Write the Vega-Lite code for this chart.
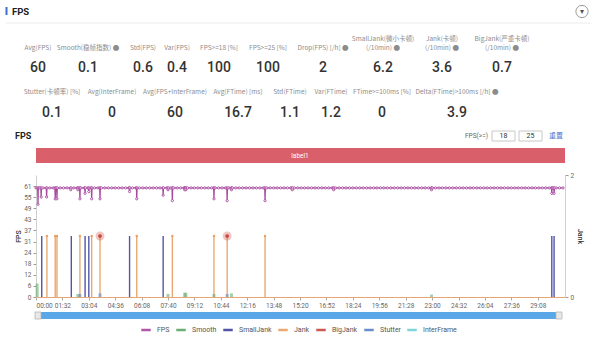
{
"$schema":"https://vega.github.io/schema/vega-lite/v6.json",
"width":529,"height":122,
"autosize":{"type":"none"},
"padding":{"left":36,"top":175,"right":35,"bottom":42},
"background":"white",
"config":{"view":{"stroke":null},"font":"Roboto"},
"datasets":{
"fps":[{"t":0,"fps":60},{"t":6,"fps":60},{"t":7,"fps":51},{"t":8,"fps":60},{"t":12,"fps":60},{"t":17,"fps":60},{"t":18,"fps":55},{"t":19,"fps":60},{"t":24,"fps":60},{"t":36,"fps":60},{"t":37,"fps":55},{"t":38,"fps":60},{"t":48,"fps":60},{"t":60,"fps":60},{"t":66,"fps":60},{"t":67,"fps":54},{"t":68,"fps":60},{"t":72,"fps":60},{"t":73,"fps":54},{"t":74,"fps":60},{"t":84,"fps":60},{"t":96,"fps":60},{"t":108,"fps":60},{"t":120,"fps":60},{"t":121,"fps":59},{"t":122,"fps":60},{"t":132,"fps":60},{"t":144,"fps":60},{"t":145,"fps":60},{"t":146,"fps":59},{"t":147,"fps":60},{"t":152,"fps":60},{"t":153,"fps":54},{"t":154,"fps":60},{"t":156,"fps":60},{"t":168,"fps":60},{"t":170,"fps":60},{"t":171,"fps":57},{"t":172,"fps":60},{"t":180,"fps":60},{"t":183,"fps":60},{"t":184,"fps":58},{"t":185,"fps":60},{"t":192,"fps":60},{"t":193,"fps":60},{"t":194,"fps":54},{"t":195,"fps":60},{"t":204,"fps":60},{"t":216,"fps":60},{"t":222,"fps":60},{"t":223,"fps":54},{"t":224,"fps":60},{"t":228,"fps":60},{"t":240,"fps":60},{"t":252,"fps":60},{"t":264,"fps":60},{"t":276,"fps":60},{"t":288,"fps":60},{"t":300,"fps":60},{"t":312,"fps":60},{"t":324,"fps":60},{"t":325,"fps":60},{"t":326,"fps":58},{"t":327,"fps":60},{"t":336,"fps":60},{"t":348,"fps":60},{"t":350,"fps":60},{"t":351,"fps":54},{"t":352,"fps":60},{"t":360,"fps":60},{"t":372,"fps":60},{"t":384,"fps":60},{"t":396,"fps":60},{"t":408,"fps":60},{"t":420,"fps":60},{"t":432,"fps":60},{"t":442,"fps":60},{"t":443,"fps":56},{"t":444,"fps":60},{"t":456,"fps":60},{"t":459,"fps":60},{"t":460,"fps":59},{"t":461,"fps":60},{"t":468,"fps":60},{"t":474,"fps":60},{"t":475,"fps":53},{"t":476,"fps":60},{"t":480,"fps":60},{"t":492,"fps":60},{"t":504,"fps":60},{"t":516,"fps":60},{"t":517,"fps":60},{"t":518,"fps":59},{"t":519,"fps":60},{"t":521,"fps":60},{"t":522,"fps":59},{"t":523,"fps":60},{"t":528,"fps":60},{"t":540,"fps":60},{"t":552,"fps":60},{"t":564,"fps":60},{"t":576,"fps":60},{"t":588,"fps":60},{"t":600,"fps":60},{"t":612,"fps":60},{"t":619,"fps":60},{"t":620,"fps":54},{"t":621,"fps":60},{"t":624,"fps":60},{"t":636,"fps":60},{"t":648,"fps":60},{"t":660,"fps":60},{"t":665,"fps":60},{"t":666,"fps":53},{"t":667,"fps":60},{"t":672,"fps":60},{"t":680,"fps":60},{"t":681,"fps":59},{"t":682,"fps":60},{"t":684,"fps":60},{"t":696,"fps":60},{"t":708,"fps":60},{"t":720,"fps":60},{"t":732,"fps":60},{"t":744,"fps":60},{"t":756,"fps":60},{"t":768,"fps":60},{"t":780,"fps":60},{"t":792,"fps":60},{"t":797,"fps":60},{"t":798,"fps":53},{"t":799,"fps":60},{"t":804,"fps":60},{"t":816,"fps":60},{"t":828,"fps":60},{"t":840,"fps":60},{"t":852,"fps":60},{"t":864,"fps":60},{"t":876,"fps":60},{"t":888,"fps":60},{"t":892,"fps":60},{"t":893,"fps":59},{"t":894,"fps":60},{"t":900,"fps":60},{"t":912,"fps":60},{"t":924,"fps":60},{"t":936,"fps":60},{"t":948,"fps":60},{"t":960,"fps":60},{"t":972,"fps":60},{"t":984,"fps":60},{"t":996,"fps":60},{"t":1008,"fps":60},{"t":1020,"fps":60},{"t":1032,"fps":60},{"t":1036,"fps":60},{"t":1037,"fps":59},{"t":1038,"fps":60},{"t":1044,"fps":60},{"t":1056,"fps":60},{"t":1068,"fps":60},{"t":1080,"fps":60},{"t":1092,"fps":60},{"t":1104,"fps":60},{"t":1116,"fps":60},{"t":1128,"fps":60},{"t":1140,"fps":60},{"t":1152,"fps":60},{"t":1164,"fps":60},{"t":1176,"fps":60},{"t":1188,"fps":60},{"t":1200,"fps":60},{"t":1212,"fps":60},{"t":1224,"fps":60},{"t":1236,"fps":60},{"t":1248,"fps":60},{"t":1260,"fps":60},{"t":1272,"fps":60},{"t":1284,"fps":60},{"t":1296,"fps":60},{"t":1308,"fps":60},{"t":1320,"fps":60},{"t":1332,"fps":60},{"t":1344,"fps":60},{"t":1356,"fps":60},{"t":1368,"fps":60},{"t":1377,"fps":60},{"t":1378,"fps":59},{"t":1379,"fps":60},{"t":1380,"fps":60},{"t":1392,"fps":60},{"t":1404,"fps":60},{"t":1416,"fps":60},{"t":1428,"fps":60},{"t":1440,"fps":60},{"t":1452,"fps":60},{"t":1464,"fps":60},{"t":1476,"fps":60},{"t":1488,"fps":60},{"t":1500,"fps":60},{"t":1512,"fps":60},{"t":1524,"fps":60},{"t":1536,"fps":60},{"t":1548,"fps":60},{"t":1560,"fps":60},{"t":1572,"fps":60},{"t":1584,"fps":60},{"t":1596,"fps":60},{"t":1608,"fps":60},{"t":1620,"fps":60},{"t":1632,"fps":60},{"t":1644,"fps":60},{"t":1656,"fps":60},{"t":1668,"fps":60},{"t":1680,"fps":60},{"t":1692,"fps":60},{"t":1704,"fps":60},{"t":1716,"fps":60},{"t":1728,"fps":60},{"t":1740,"fps":60},{"t":1752,"fps":60},{"t":1764,"fps":60},{"t":1776,"fps":60},{"t":1788,"fps":60},{"t":1796,"fps":60},{"t":1797,"fps":57},{"t":1798,"fps":60},{"t":1800,"fps":60},{"t":1804,"fps":60},{"t":1805,"fps":57},{"t":1806,"fps":60},{"t":1812,"fps":60},{"t":1824,"fps":60},{"t":1836,"fps":60}],
"events":[{"t":4,"series":"Smooth","v":0.22},{"t":146,"series":"Smooth","v":0.05},{"t":460,"series":"Smooth","v":0.05},{"t":518,"series":"Smooth","v":0.07},{"t":522,"series":"Smooth","v":0.07},{"t":620,"series":"Smooth","v":0.05},{"t":681,"series":"Smooth","v":0.06},{"t":1378,"series":"Smooth","v":0.04},{"t":153,"series":"Stutter","v":0.05},{"t":223,"series":"Stutter","v":0.06},{"t":666,"series":"Stutter","v":0.05},{"t":20,"series":"SmallJank","v":1},{"t":123,"series":"SmallJank","v":1},{"t":171,"series":"SmallJank","v":1},{"t":184,"series":"SmallJank","v":1},{"t":326,"series":"SmallJank","v":1},{"t":443,"series":"SmallJank","v":1},{"t":1797,"series":"SmallJank","v":1},{"t":1805,"series":"SmallJank","v":1},{"t":38,"series":"Jank","v":1},{"t":67,"series":"Jank","v":1},{"t":73,"series":"Jank","v":1},{"t":153,"series":"Jank","v":1},{"t":194,"series":"Jank","v":1},{"t":223,"series":"Jank","v":1},{"t":351,"series":"Jank","v":1},{"t":475,"series":"Jank","v":1},{"t":620,"series":"Jank","v":1},{"t":666,"series":"Jank","v":1},{"t":798,"series":"Jank","v":1},{"t":223,"series":"BigJank","v":1},{"t":666,"series":"BigJank","v":1}],
"stats":[{"i":0,"r":0,"label":"Avg(FPS)","value":"60"},{"i":1,"r":0,"label":"Smooth(稳帧指数) ●","value":"0.1"},{"i":2,"r":0,"label":"Std(FPS)","value":"0.6"},{"i":3,"r":0,"label":"Var(FPS)","value":"0.4"},{"i":4,"r":0,"label":"FPS>=18 [%]","value":"100"},{"i":5,"r":0,"label":"FPS>=25 [%]","value":"100"},{"i":6,"r":0,"label":"Drop(FPS) [/h] ●","value":"2"},{"i":7,"r":0,"label":"SmallJank(微小卡顿)\n(/10min) ●","value":"6.2"},{"i":8,"r":0,"label":"Jank(卡顿)\n(/10min)  ●","value":"3.6"},{"i":9,"r":0,"label":"BigJank(严重卡顿)\n(/10min) ●","value":"0.7"},{"i":10,"r":1,"label":"Stutter(卡顿率) [%]","value":"0.1"},{"i":11,"r":1,"label":"Avg(InterFrame)","value":"0"},{"i":12,"r":1,"label":"Avg(FPS+InterFrame)","value":"60"},{"i":13,"r":1,"label":"Avg(FTime) [ms]","value":"16.7"},{"i":14,"r":1,"label":"Std(FTime)","value":"1.1"},{"i":15,"r":1,"label":"Var(FTime)","value":"1.2"},{"i":16,"r":1,"label":"FTime>=100ms [%]","value":"0"},{"i":17,"r":1,"label":"Delta(FTime)>100ms [/h] ●","value":"3.9"}]
},
"layer":[
{
"data":{"values":[{}]},
"layer":[
{"mark":{"type":"rule","color":"#3b6fd4","strokeWidth":2},"encoding":{"x":{"datum":1,"type":"quantitative","scale":{"domain":[0,1,2,3,4,5,6,7,8,9,10,11,12,13,14,15,16,17,18,19,20,21,22,23,24,25],"range":[-30,-29.5,-24,0,2,264,452,456,467.5,479,483,494.5,506,523,529,520,546,554,-1,5,520,526,-14,192,398,-21],"nice":false,"zero":false},"axis":null},"y":{"datum":0,"type":"quantitative","scale":{"domain":[0,1,2,3,4,5,6,7,8,9,10,11,12,13,14],"range":[-168,-163.5,-160,-152,-44,-39,-34,-27,-19.5,-12,137,140.5,144,102,-78],"nice":false,"zero":false},"axis":null},"y2":{"datum":2}}},
{"mark":{"type":"text","text":"FPS","align":"left","baseline":"middle","fontSize":9.5,"fontWeight":"bold","color":"#222","font":"Roboto"},"encoding":{"x":{"datum":2,"type":"quantitative","scale":{"domain":[0,1,2,3,4,5,6,7,8,9,10,11,12,13,14,15,16,17,18,19,20,21,22,23,24,25],"range":[-30,-29.5,-24,0,2,264,452,456,467.5,479,483,494.5,506,523,529,520,546,554,-1,5,520,526,-14,192,398,-21],"nice":false,"zero":false},"axis":null},"y":{"datum":1,"type":"quantitative","scale":{"domain":[0,1,2,3,4,5,6,7,8,9,10,11,12,13,14],"range":[-168,-163.5,-160,-152,-44,-39,-34,-27,-19.5,-12,137,140.5,144,102,-78],"nice":false,"zero":false},"axis":null}}},
{"mark":{"type":"rule","color":"#ececec","strokeWidth":1},"encoding":{"x":{"datum":0,"type":"quantitative","scale":{"domain":[0,1,2,3,4,5,6,7,8,9,10,11,12,13,14,15,16,17,18,19,20,21,22,23,24,25],"range":[-30,-29.5,-24,0,2,264,452,456,467.5,479,483,494.5,506,523,529,520,546,554,-1,5,520,526,-14,192,398,-21],"nice":false,"zero":false},"axis":null},"x2":{"datum":17},"y":{"datum":3,"type":"quantitative","scale":{"domain":[0,1,2,3,4,5,6,7,8,9,10,11,12,13,14],"range":[-168,-163.5,-160,-152,-44,-39,-34,-27,-19.5,-12,137,140.5,144,102,-78],"nice":false,"zero":false},"axis":null}}},
{"mark":{"type":"point","shape":"circle","size":150,"filled":true,"fill":"white","stroke":"#9a9a9a","strokeWidth":1,"opacity":1},"encoding":{"x":{"datum":16,"type":"quantitative","scale":{"domain":[0,1,2,3,4,5,6,7,8,9,10,11,12,13,14,15,16,17,18,19,20,21,22,23,24,25],"range":[-30,-29.5,-24,0,2,264,452,456,467.5,479,483,494.5,506,523,529,520,546,554,-1,5,520,526,-14,192,398,-21],"nice":false,"zero":false},"axis":null},"y":{"datum":1,"type":"quantitative","scale":{"domain":[0,1,2,3,4,5,6,7,8,9,10,11,12,13,14],"range":[-168,-163.5,-160,-152,-44,-39,-34,-27,-19.5,-12,137,140.5,144,102,-78],"nice":false,"zero":false},"axis":null}}},
{"mark":{"type":"text","text":"▾","align":"center","baseline":"middle","fontSize":8,"color":"#555","font":"DejaVu Sans"},"encoding":{"x":{"datum":16,"type":"quantitative","scale":{"domain":[0,1,2,3,4,5,6,7,8,9,10,11,12,13,14,15,16,17,18,19,20,21,22,23,24,25],"range":[-30,-29.5,-24,0,2,264,452,456,467.5,479,483,494.5,506,523,529,520,546,554,-1,5,520,526,-14,192,398,-21],"nice":false,"zero":false},"axis":null},"y":{"datum":1,"type":"quantitative","scale":{"domain":[0,1,2,3,4,5,6,7,8,9,10,11,12,13,14],"range":[-168,-163.5,-160,-152,-44,-39,-34,-27,-19.5,-12,137,140.5,144,102,-78],"nice":false,"zero":false},"axis":null}}},
{"mark":{"type":"text","text":"FPS","align":"left","baseline":"middle","fontSize":9,"fontWeight":"bold","color":"#222","font":"Roboto"},"encoding":{"x":{"datum":25,"type":"quantitative","scale":{"domain":[0,1,2,3,4,5,6,7,8,9,10,11,12,13,14,15,16,17,18,19,20,21,22,23,24,25],"range":[-30,-29.5,-24,0,2,264,452,456,467.5,479,483,494.5,506,523,529,520,546,554,-1,5,520,526,-14,192,398,-21],"nice":false,"zero":false},"axis":null},"y":{"datum":5,"type":"quantitative","scale":{"domain":[0,1,2,3,4,5,6,7,8,9,10,11,12,13,14],"range":[-168,-163.5,-160,-152,-44,-39,-34,-27,-19.5,-12,137,140.5,144,102,-78],"nice":false,"zero":false},"axis":null}}},
{"mark":{"type":"text","text":"FPS(>=)","align":"right","baseline":"middle","fontSize":6.5,"color":"#666","font":"Roboto"},"encoding":{"x":{"datum":6,"type":"quantitative","scale":{"domain":[0,1,2,3,4,5,6,7,8,9,10,11,12,13,14,15,16,17,18,19,20,21,22,23,24,25],"range":[-30,-29.5,-24,0,2,264,452,456,467.5,479,483,494.5,506,523,529,520,546,554,-1,5,520,526,-14,192,398,-21],"nice":false,"zero":false},"axis":null},"y":{"datum":5,"type":"quantitative","scale":{"domain":[0,1,2,3,4,5,6,7,8,9,10,11,12,13,14],"range":[-168,-163.5,-160,-152,-44,-39,-34,-27,-19.5,-12,137,140.5,144,102,-78],"nice":false,"zero":false},"axis":null}}},
{"mark":{"type":"rect","fill":"white","stroke":"#c8c8c8","strokeWidth":1},"encoding":{"x":{"datum":7,"type":"quantitative","scale":{"domain":[0,1,2,3,4,5,6,7,8,9,10,11,12,13,14,15,16,17,18,19,20,21,22,23,24,25],"range":[-30,-29.5,-24,0,2,264,452,456,467.5,479,483,494.5,506,523,529,520,546,554,-1,5,520,526,-14,192,398,-21],"nice":false,"zero":false},"axis":null},"x2":{"datum":9},"y":{"datum":4,"type":"quantitative","scale":{"domain":[0,1,2,3,4,5,6,7,8,9,10,11,12,13,14],"range":[-168,-163.5,-160,-152,-44,-39,-34,-27,-19.5,-12,137,140.5,144,102,-78],"nice":false,"zero":false},"axis":null},"y2":{"datum":6}}},
{"mark":{"type":"rect","fill":"white","stroke":"#c8c8c8","strokeWidth":1},"encoding":{"x":{"datum":10,"type":"quantitative","scale":{"domain":[0,1,2,3,4,5,6,7,8,9,10,11,12,13,14,15,16,17,18,19,20,21,22,23,24,25],"range":[-30,-29.5,-24,0,2,264,452,456,467.5,479,483,494.5,506,523,529,520,546,554,-1,5,520,526,-14,192,398,-21],"nice":false,"zero":false},"axis":null},"x2":{"datum":12},"y":{"datum":4,"type":"quantitative","scale":{"domain":[0,1,2,3,4,5,6,7,8,9,10,11,12,13,14],"range":[-168,-163.5,-160,-152,-44,-39,-34,-27,-19.5,-12,137,140.5,144,102,-78],"nice":false,"zero":false},"axis":null},"y2":{"datum":6}}},
{"mark":{"type":"text","text":"18","align":"center","baseline":"middle","fontSize":7,"color":"#333","font":"Roboto"},"encoding":{"x":{"datum":8,"type":"quantitative","scale":{"domain":[0,1,2,3,4,5,6,7,8,9,10,11,12,13,14,15,16,17,18,19,20,21,22,23,24,25],"range":[-30,-29.5,-24,0,2,264,452,456,467.5,479,483,494.5,506,523,529,520,546,554,-1,5,520,526,-14,192,398,-21],"nice":false,"zero":false},"axis":null},"y":{"datum":5,"type":"quantitative","scale":{"domain":[0,1,2,3,4,5,6,7,8,9,10,11,12,13,14],"range":[-168,-163.5,-160,-152,-44,-39,-34,-27,-19.5,-12,137,140.5,144,102,-78],"nice":false,"zero":false},"axis":null}}},
{"mark":{"type":"text","text":"25","align":"center","baseline":"middle","fontSize":7,"color":"#333","font":"Roboto"},"encoding":{"x":{"datum":11,"type":"quantitative","scale":{"domain":[0,1,2,3,4,5,6,7,8,9,10,11,12,13,14,15,16,17,18,19,20,21,22,23,24,25],"range":[-30,-29.5,-24,0,2,264,452,456,467.5,479,483,494.5,506,523,529,520,546,554,-1,5,520,526,-14,192,398,-21],"nice":false,"zero":false},"axis":null},"y":{"datum":5,"type":"quantitative","scale":{"domain":[0,1,2,3,4,5,6,7,8,9,10,11,12,13,14],"range":[-168,-163.5,-160,-152,-44,-39,-34,-27,-19.5,-12,137,140.5,144,102,-78],"nice":false,"zero":false},"axis":null}}},
{"mark":{"type":"text","text":"重置","align":"center","baseline":"middle","fontSize":7,"color":"#4a78d0","font":"Noto Sans CJK SC"},"encoding":{"x":{"datum":15,"type":"quantitative","scale":{"domain":[0,1,2,3,4,5,6,7,8,9,10,11,12,13,14,15,16,17,18,19,20,21,22,23,24,25],"range":[-30,-29.5,-24,0,2,264,452,456,467.5,479,483,494.5,506,523,529,520,546,554,-1,5,520,526,-14,192,398,-21],"nice":false,"zero":false},"axis":null},"y":{"datum":5,"type":"quantitative","scale":{"domain":[0,1,2,3,4,5,6,7,8,9,10,11,12,13,14],"range":[-168,-163.5,-160,-152,-44,-39,-34,-27,-19.5,-12,137,140.5,144,102,-78],"nice":false,"zero":false},"axis":null}}},
{"mark":{"type":"rect","fill":"#d9606a"},"encoding":{"x":{"datum":3,"type":"quantitative","scale":{"domain":[0,1,2,3,4,5,6,7,8,9,10,11,12,13,14,15,16,17,18,19,20,21,22,23,24,25],"range":[-30,-29.5,-24,0,2,264,452,456,467.5,479,483,494.5,506,523,529,520,546,554,-1,5,520,526,-14,192,398,-21],"nice":false,"zero":false},"axis":null},"x2":{"datum":14},"y":{"datum":7,"type":"quantitative","scale":{"domain":[0,1,2,3,4,5,6,7,8,9,10,11,12,13,14],"range":[-168,-163.5,-160,-152,-44,-39,-34,-27,-19.5,-12,137,140.5,144,102,-78],"nice":false,"zero":false},"axis":null},"y2":{"datum":9}}},
{"mark":{"type":"text","text":"label1","align":"center","baseline":"middle","fontSize":6.5,"color":"white","font":"Roboto"},"encoding":{"x":{"datum":5,"type":"quantitative","scale":{"domain":[0,1,2,3,4,5,6,7,8,9,10,11,12,13,14,15,16,17,18,19,20,21,22,23,24,25],"range":[-30,-29.5,-24,0,2,264,452,456,467.5,479,483,494.5,506,523,529,520,546,554,-1,5,520,526,-14,192,398,-21],"nice":false,"zero":false},"axis":null},"y":{"datum":8,"type":"quantitative","scale":{"domain":[0,1,2,3,4,5,6,7,8,9,10,11,12,13,14],"range":[-168,-163.5,-160,-152,-44,-39,-34,-27,-19.5,-12,137,140.5,144,102,-78],"nice":false,"zero":false},"axis":null}}},
{"mark":{"type":"rect","fill":"#5aa7e8"},"encoding":{"x":{"datum":4,"type":"quantitative","scale":{"domain":[0,1,2,3,4,5,6,7,8,9,10,11,12,13,14,15,16,17,18,19,20,21,22,23,24,25],"range":[-30,-29.5,-24,0,2,264,452,456,467.5,479,483,494.5,506,523,529,520,546,554,-1,5,520,526,-14,192,398,-21],"nice":false,"zero":false},"axis":null},"x2":{"datum":13},"y":{"datum":10,"type":"quantitative","scale":{"domain":[0,1,2,3,4,5,6,7,8,9,10,11,12,13,14],"range":[-168,-163.5,-160,-152,-44,-39,-34,-27,-19.5,-12,137,140.5,144,102,-78],"nice":false,"zero":false},"axis":null},"y2":{"datum":12}}},
{"mark":{"type":"rect","fill":"#e8e8e8","stroke":"#b5b5b5","strokeWidth":0.8},"encoding":{"x":{"datum":18,"type":"quantitative","scale":{"domain":[0,1,2,3,4,5,6,7,8,9,10,11,12,13,14,15,16,17,18,19,20,21,22,23,24,25],"range":[-30,-29.5,-24,0,2,264,452,456,467.5,479,483,494.5,506,523,529,520,546,554,-1,5,520,526,-14,192,398,-21],"nice":false,"zero":false},"axis":null},"x2":{"datum":19},"y":{"datum":10,"type":"quantitative","scale":{"domain":[0,1,2,3,4,5,6,7,8,9,10,11,12,13,14],"range":[-168,-163.5,-160,-152,-44,-39,-34,-27,-19.5,-12,137,140.5,144,102,-78],"nice":false,"zero":false},"axis":null},"y2":{"datum":12}}},
{"mark":{"type":"rect","fill":"#e8e8e8","stroke":"#b5b5b5","strokeWidth":0.8},"encoding":{"x":{"datum":20,"type":"quantitative","scale":{"domain":[0,1,2,3,4,5,6,7,8,9,10,11,12,13,14,15,16,17,18,19,20,21,22,23,24,25],"range":[-30,-29.5,-24,0,2,264,452,456,467.5,479,483,494.5,506,523,529,520,546,554,-1,5,520,526,-14,192,398,-21],"nice":false,"zero":false},"axis":null},"x2":{"datum":21},"y":{"datum":10,"type":"quantitative","scale":{"domain":[0,1,2,3,4,5,6,7,8,9,10,11,12,13,14],"range":[-168,-163.5,-160,-152,-44,-39,-34,-27,-19.5,-12,137,140.5,144,102,-78],"nice":false,"zero":false},"axis":null},"y2":{"datum":12}}}
]
},
{
"data":{"name":"stats"},
"layer":[
{"transform":[{"filter":"indexof(datum.label, '\\n') < 0"}],
"mark":{"type":"text","baseline":"bottom","align":"center","fontSize":6.5,"color":"#8c8c8c","font":"Noto Sans CJK SC"},
"encoding":{"x":{"field":"i","type":"quantitative","scale":{"domain":[0,1,2,3,4,5,6,7,8,9,10,11,12,13,14,15,16,17],"range":[2,52,107,141,183,232,287,347,406,466,16,76,139,202,254,295,346,421],"nice":false,"zero":false},"axis":null},
"y":{"field":"r","type":"quantitative","scale":{"domain":[0,1],"range":[-124,-80.5],"nice":false,"zero":false},"axis":null},
"text":{"field":"label","type":"nominal"}}},
{"transform":[{"filter":"indexof(datum.label, '\\n') >= 0"}],
"mark":{"type":"text","baseline":"bottom","align":"center","fontSize":6.5,"color":"#8c8c8c","lineBreak":"\n","lineHeight":9,"dy":-9,"font":"Noto Sans CJK SC"},
"encoding":{"x":{"field":"i","type":"quantitative","scale":{"domain":[0,1,2,3,4,5,6,7,8,9,10,11,12,13,14,15,16,17],"range":[2,52,107,141,183,232,287,347,406,466,16,76,139,202,254,295,346,421],"nice":false,"zero":false},"axis":null},
"y":{"field":"r","type":"quantitative","scale":{"domain":[0,1],"range":[-124,-80.5],"nice":false,"zero":false},"axis":null},
"text":{"field":"label","type":"nominal"}}},
{"mark":{"type":"text","baseline":"middle","align":"center","fontSize":14,"fontWeight":500,"color":"#333","font":"Roboto"},
"encoding":{"x":{"field":"i","type":"quantitative","scale":{"domain":[0,1,2,3,4,5,6,7,8,9,10,11,12,13,14,15,16,17],"range":[2,52,107,141,183,232,287,347,406,466,16,76,139,202,254,295,346,421],"nice":false,"zero":false},"axis":null},
"y":{"field":"r","type":"quantitative","scale":{"domain":[0,1],"range":[-107,-62],"nice":false,"zero":false},"axis":null},
"text":{"field":"value","type":"nominal"}}}
],
"resolve":{"scale":{"y":"independent"}}
},
{
"data":{"name":"fps"},
"encoding":{
"x":{"field":"t","type":"quantitative","scale":{"domain":[0,1843],"nice":false,"zero":false},
"axis":{"orient":"bottom","values":[0,92,184,276,368,460,552,644,736,828,920,1012,1104,1196,1288,1380,1472,1564,1656,1748],"labelExpr":"(floor(datum.value/60) < 10 ? '0' : '') + floor(datum.value/60) + ':' + (datum.value % 60 < 10 ? '0' : '') + (datum.value % 60)","labelFontSize":6.5,"labelColor":"#666","labelFont":"Roboto","tickColor":"#aaa","tickSize":3,"domainColor":"#e6a571","domainWidth":1.2,"labelPadding":2,"labelFlush":true,"grid":false,"title":null}},
"y":{"field":"fps","type":"quantitative","scale":{"domain":[0,67.1],"nice":false,"zero":true},
"axis":{"orient":"left","values":[0,6.1,12.2,18.3,24.4,30.5,36.6,42.7,48.8,54.9,61],"format":".0f","labelFontSize":6.5,"labelColor":"#666","labelFont":"Roboto","tickSize":3,"tickColor":"#999","domainColor":"#cfcfcf","grid":false,"title":"FPS","titleFontSize":7,"titleFont":"Roboto","titleFontWeight":500,"titleColor":"#333","titlePadding":2}}
},
"layer":[
{"mark":{"type":"line","color":"#a8479f","strokeWidth":1.3}},
{"mark":{"type":"point","shape":"circle","filled":true,"fill":"white","stroke":"#a8479f","strokeWidth":0.9,"size":5,"opacity":1}}
]
},
{
"data":{"name":"events"},
"encoding":{"x":{"field":"t","type":"quantitative","scale":{"domain":[0,1843],"nice":false,"zero":false},"axis":null}},
"layer":[
{"transform":[{"filter":{"field":"series","oneOf":["SmallJank","Jank"]}}],
"mark":{"type":"rule","strokeWidth":1.4,"opacity":0.9},
"encoding":{"y":{"field":"v","type":"quantitative","scale":{"domain":[0,2],"nice":false},
"axis":{"orient":"right","values":[0,1,2],"format":"d","labelFontSize":6.5,"labelColor":"#666","labelFont":"Roboto","tickSize":3,"tickColor":"#999","domainColor":"#cfcfcf","grid":false,"title":"Jank","titleFontSize":7,"titleFont":"Roboto","titleFontWeight":500,"titleColor":"#333","titlePadding":3}},
"y2":{"datum":0},
"color":{"field":"series","type":"nominal","scale":{"domain":["FPS","Smooth","SmallJank","Jank","BigJank","Stutter","InterFrame"],"range":["#a8479f","#5da564","#3f429e","#e8a064","#c9453f","#5585c7","#6fd1d4"]},
"legend":{"orient":"none","legendX":104,"legendY":149,"direction":"horizontal","gridAlign":"none","title":null,"symbolType":"stroke","symbolStrokeWidth":2.5,"symbolSize":90,"labelFontSize":7,"labelColor":"#555","labelFont":"Roboto","columnPadding":1,"labelOffset":5}}}},
{"transform":[{"filter":{"field":"series","oneOf":["Smooth","Stutter"]}}],
"mark":{"type":"rule","strokeWidth":3,"opacity":0.55},
"encoding":{"y":{"field":"v","type":"quantitative"},"y2":{"datum":0},"color":{"field":"series","type":"nominal"}}},
{"transform":[{"filter":{"field":"series","equal":"Jank"}}],
"mark":{"type":"point","shape":"circle","filled":true,"size":6,"opacity":1},
"encoding":{"y":{"field":"v","type":"quantitative"},"color":{"field":"series","type":"nominal"}}},
{"transform":[{"filter":{"field":"series","equal":"BigJank"}}],
"mark":{"type":"point","shape":"circle","filled":true,"size":80,"opacity":0.3},
"encoding":{"y":{"field":"v","type":"quantitative"},"color":{"field":"series","type":"nominal"}}},
{"transform":[{"filter":{"field":"series","equal":"BigJank"}}],
"mark":{"type":"point","shape":"circle","filled":true,"size":14,"opacity":1},
"encoding":{"y":{"field":"v","type":"quantitative"},"color":{"field":"series","type":"nominal"}}}
]
}
],
"resolve":{"scale":{"x":"independent","y":"independent"}}
}
